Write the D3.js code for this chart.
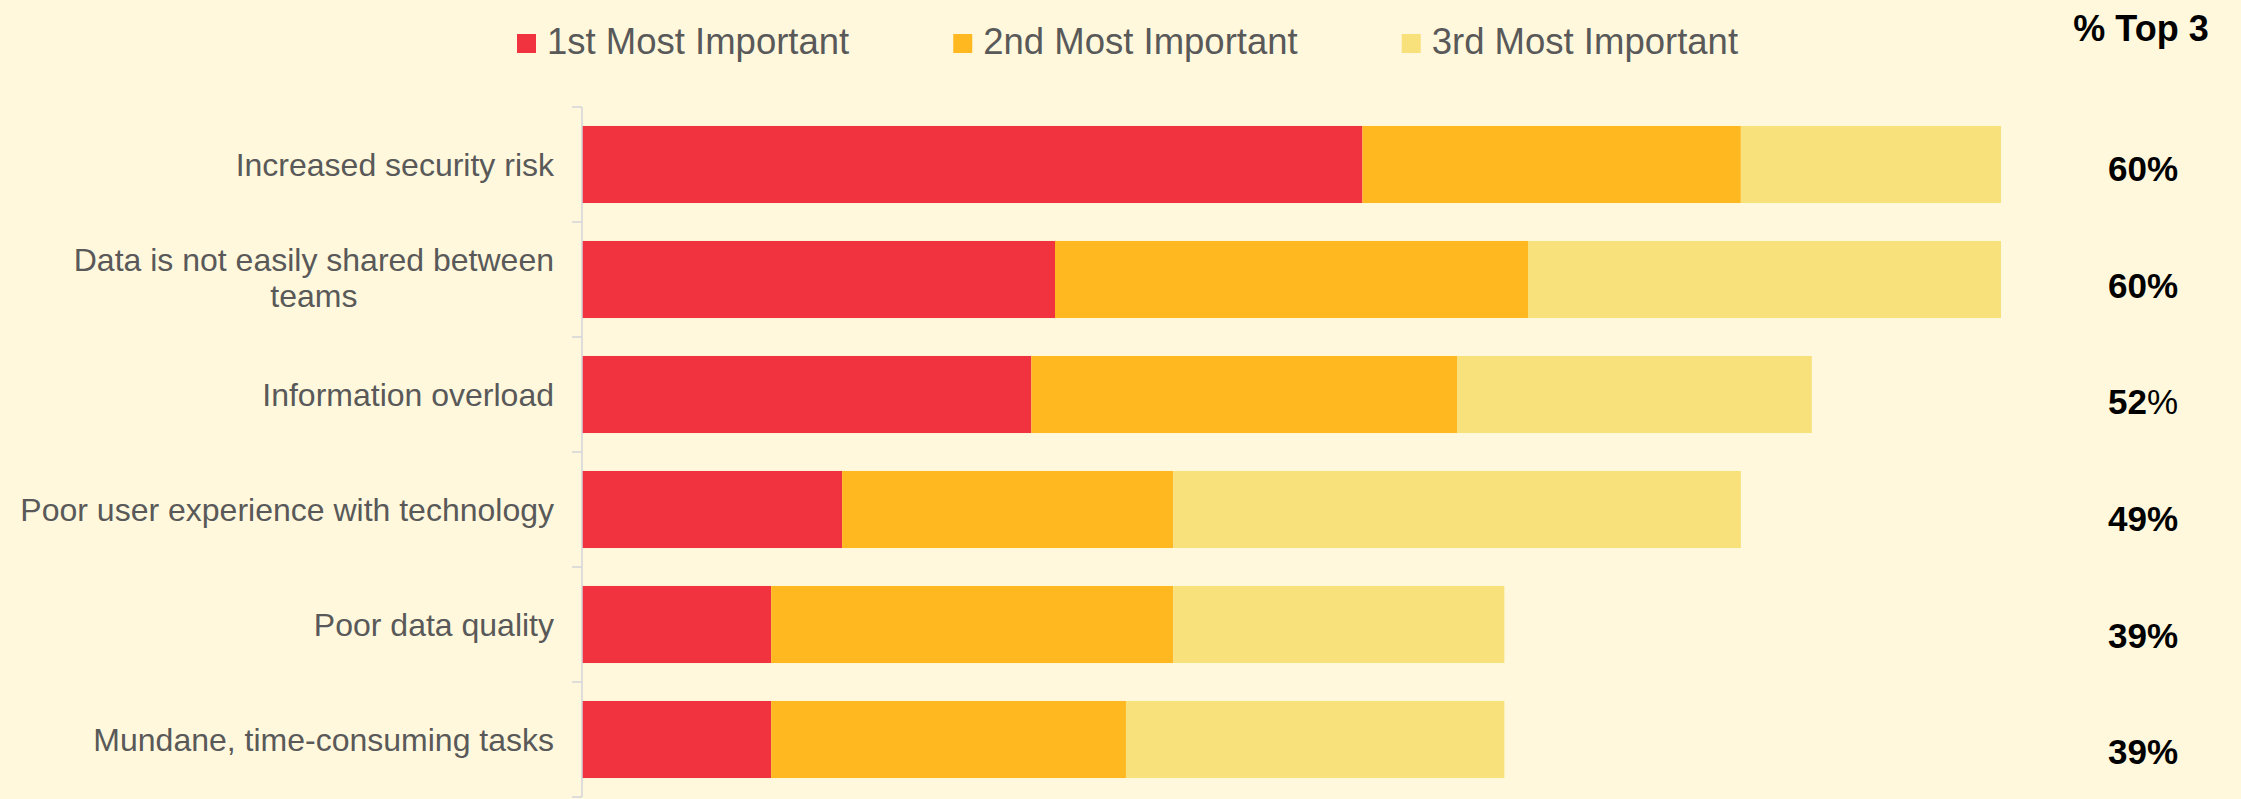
<!DOCTYPE html>
<html>
<head>
<meta charset="utf-8">
<script src="https://cdn.jsdelivr.net/npm/d3@7"></script>
<style>
  html, body { margin: 0; padding: 0; background: #FFF8DC; }
  svg { display: block; font-family: Arial, "Liberation Sans", sans-serif; }
</style>
</head>
<body>
<svg id="chart" width="2241" height="799"></svg>
<script>
// data (percent of respondents)
var categories = [
    'Increased security risk',
    'Data is not easily shared between teams',
    'Information overload',
    'Poor user experience with technology',
    'Poor data quality',
    'Mundane, time-consuming tasks'
];
var seriesNames = ['1st Most Important', '2nd Most Important', '3rd Most Important'];
var first  = [33, 20, 19, 11, 8, 8];
var second = [16, 20, 18, 14, 17, 15];
var third  = [11, 20, 15, 24, 14, 16];
var top3Labels = ['60%', '60%', '52%', '49%', '39%', '39%'];

var colors = ['#F0333F', '#FFB81F', '#F8E07B'];

var svg = d3.select('#chart');

var x = d3.scaleLinear().domain([0, 60]).range([582, 2001]);
var y = d3.scaleBand().domain(categories).range([107, 797]).paddingInner(0.33).paddingOuter(0.165);
// the top-3 column sits a little lower than the bars in the original
var yLab = d3.scaleBand().domain(categories).range([110, 810]);

// stack the three rankings
var rows = categories.map(function (c, i) {
    return { cat: c, s0: first[i], s1: second[i], s2: third[i] };
});
var stack = d3.stack().keys(['s0', 's1', 's2']);
var layers = stack(rows);

svg.append('g').selectAll('g')
    .data(layers)
    .join('g')
    .attr('fill', function (d, i) { return colors[i]; })
    .selectAll('rect')
    .data(function (d) { return d; })
    .join('rect')
    .attr('x', function (d) { return x(d[0]); })
    .attr('width', function (d) { return x(d[1]) - x(d[0]); })
    .attr('y', function (d) { return y(d.data.cat); })
    .attr('height', y.bandwidth());

// category axis: just the line and ticks between bands
var axisG = svg.append('g').attr('stroke', '#D3D5DA').attr('stroke-width', 1.5);
axisG.append('line')
    .attr('x1', 582).attr('x2', 582)
    .attr('y1', 107).attr('y2', 797);
var bounds = categories.map(function (c) { return y(c) - y.step() * y.paddingInner() / 2; });
bounds.push(797);
axisG.selectAll('line.tick')
    .data(bounds)
    .join('line')
    .attr('class', 'tick')
    .attr('x1', 572).attr('x2', 582)
    .attr('y1', function (d) { return d; })
    .attr('y2', function (d) { return d; });

// category labels, wrapped like the original
var wrapped = {
    'Data is not easily shared between teams': ['Data is not easily shared between', 'teams']
};
var labG = svg.append('g')
    .attr('font-size', 32)
    .attr('fill', '#595959');
categories.forEach(function (c) {
    var cy = y(c) + y.bandwidth() / 2;
    var lines = wrapped[c];
    if (!lines) {
        labG.append('text')
            .attr('x', 554).attr('y', cy + 11.5)
            .attr('text-anchor', 'end')
            .text(c);
        return;
    }
    var t = labG.append('text').attr('text-anchor', 'middle');
    var spans = t.selectAll('tspan')
        .data(lines)
        .join('tspan')
        .attr('x', 0)
        .attr('y', function (d, i) { return cy - 8.5 + i * 36; })
        .text(function (d) { return d; });
    // right-align the block, center lines within it
    var w = d3.max(spans.nodes(), function (n) { return n.getComputedTextLength(); });
    spans.attr('x', 554 - w / 2);
});

// % Top 3 column
svg.append('text')
    .attr('x', 2141).attr('y', 41)
    .attr('text-anchor', 'middle')
    .attr('font-size', 36)
    .attr('font-weight', 'bold')
    .attr('fill', '#000')
    .text('% Top 3');

var topG = svg.append('g')
    .attr('font-size', 35)
    .attr('font-weight', 'bold')
    .attr('fill', '#000')
    .attr('text-anchor', 'middle');
categories.forEach(function (c, i) {
    var t = topG.append('text')
        .attr('x', 2143)
        .attr('y', yLab(c) + yLab.bandwidth() / 2 + 12.5);
    var num = top3Labels[i].replace('%', '');
    t.append('tspan').text(num);
    // the 52% label has a regular-weight percent sign in the original
    t.append('tspan').attr('font-weight', i === 2 ? 'normal' : 'bold').text('%');
});

// legend
var legG = svg.append('g').attr('font-size', 36.5).attr('fill', '#595959');
var lx = 517;
seriesNames.forEach(function (name, i) {
    legG.append('rect')
        .attr('x', lx).attr('y', 34)
        .attr('width', 19).attr('height', 19)
        .attr('fill', colors[i]);
    var t = legG.append('text')
        .attr('x', lx + 30).attr('y', 54)
        .text(name);
    lx += 30 + t.node().getComputedTextLength() + 104;
});
</script>
</body>
</html>
